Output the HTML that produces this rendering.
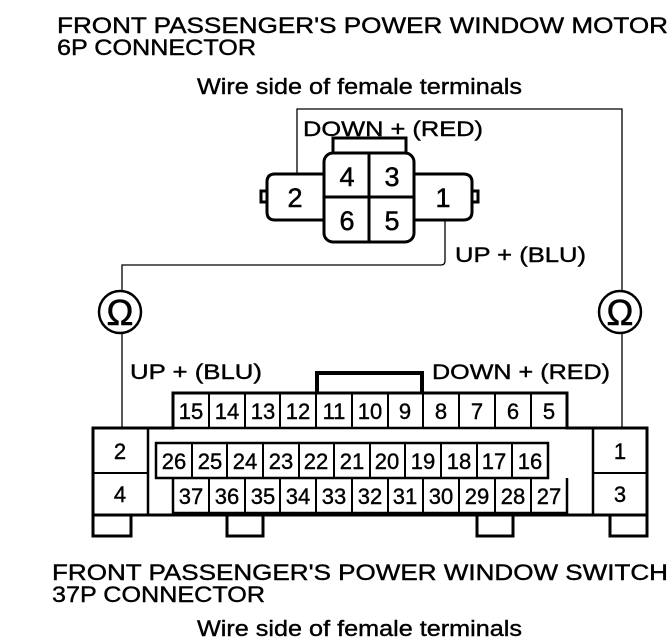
<!DOCTYPE html>
<html><head><meta charset="utf-8"><style>html,body{margin:0;padding:0;background:#fff}svg{display:block}</style></head>
<body>
<svg width="672" height="644" viewBox="0 0 672 644" xmlns="http://www.w3.org/2000/svg" font-family="Liberation Sans, Arial, sans-serif" fill="none" stroke="#000">
<g fill="#000" stroke="#000" stroke-width="0.4" font-size="22">
<text x="57" y="33" textLength="611" lengthAdjust="spacingAndGlyphs">FRONT PASSENGER'S POWER WINDOW MOTOR</text>
<text x="57" y="55" textLength="199" lengthAdjust="spacingAndGlyphs">6P CONNECTOR</text>
<text x="197" y="94" textLength="325" lengthAdjust="spacingAndGlyphs">Wire side of female terminals</text>
<text x="52" y="580" textLength="616" lengthAdjust="spacingAndGlyphs">FRONT PASSENGER'S POWER WINDOW SWITCH</text>
<text x="52" y="602" textLength="213" lengthAdjust="spacingAndGlyphs">37P CONNECTOR</text>
<text x="197" y="636" textLength="325" lengthAdjust="spacingAndGlyphs">Wire side of female terminals</text>
<text x="303" y="136" font-size="21" textLength="180" lengthAdjust="spacingAndGlyphs">DOWN +  (RED)</text>
<text x="455" y="262" font-size="21" textLength="131" lengthAdjust="spacingAndGlyphs">UP +  (BLU)</text>
<text x="130" y="379" font-size="21" textLength="132" lengthAdjust="spacingAndGlyphs">UP +  (BLU)</text>
<text x="432" y="379" font-size="21" textLength="178" lengthAdjust="spacingAndGlyphs">DOWN +  (RED)</text>
</g>
<!-- wires -->
<g stroke-width="1.3">
<path d="M297 175 V109 H622 V290 M622 334 V428"/>
<path d="M445 220 V261 Q445 265 441 265 H122 V290 M122 334 V428"/>
</g>
<g stroke-width="2.5"><circle cx="120" cy="312" r="21"/><circle cx="620" cy="312" r="21"/></g>
<g fill="#000" stroke="#000" stroke-width="0.6" font-size="36"><text x="120" y="325" text-anchor="middle">Ω</text><text x="620" y="325" text-anchor="middle">Ω</text></g>
<!-- 6P connector -->
<g stroke-width="3">
<path d="M333 153 V138 H406 V153"/>
<rect x="324" y="153" width="90" height="89" rx="9"/>
<path d="M369 153 V242 M324 197 H414"/>
<path d="M324 174 H275 Q267 174 267 182 V212 Q267 220 275 220 H324"/>
<path d="M414 174 H463 Q472 174 472 182 V212 Q472 220 463 220 H414"/>
<rect x="261" y="191" width="6" height="11"/>
<rect x="472" y="191" width="6" height="11"/>
</g>
<g fill="#000" stroke="#000" stroke-width="0.5" font-size="27" text-anchor="middle">
<text x="295" y="207">2</text><text x="347" y="186">4</text><text x="392" y="186">3</text>
<text x="347" y="230">6</text><text x="392" y="230">5</text><text x="443" y="207">1</text>
</g>
<!-- 37P connector -->
<g stroke-width="3">
<path d="M317 393 V373 H422 V393" stroke-width="4"/>
<path d="M93 428 H173 V393 H567 V428 H647 V515 H93 Z"/>
<path d="M93 515 V536 H131 V515 M227 515 V536 H263 V515 M477 515 V536 H513 V515 M610 515 V536 H647 V515"/>
<path d="M148 428 V515 M593 428 V515" stroke-width="2.5"/>
<path d="M93 473 H148 M593 473 H647" stroke-width="2"/>
<rect x="156" y="443" width="392" height="35" stroke-width="2.5"/>
<path d="M173 428 H567 M173 478 V513 H567 V478" stroke-width="2.5"/>
</g>
<g stroke-width="2">
<path d="M209 393V428M245 393V428M280 393V428M316 393V428M352 393V428M388 393V428M423 393V428M459 393V428M495 393V428M531 393V428"/>
<path d="M192 443V478M227 443V478M263 443V478M299 443V478M334 443V478M370 443V478M405 443V478M441 443V478M477 443V478M512 443V478"/>
<path d="M209 478V513M245 478V513M280 478V513M316 478V513M352 478V513M388 478V513M423 478V513M459 478V513M495 478V513M531 478V513"/>
</g>
<g fill="#000" stroke="#000" stroke-width="0.4" font-size="22" text-anchor="middle">
<text x="191" y="419">15</text><text x="227" y="419">14</text><text x="263" y="419">13</text><text x="298" y="419">12</text><text x="334" y="419">11</text><text x="370" y="419">10</text><text x="405" y="419">9</text><text x="441" y="419">8</text><text x="477" y="419">7</text><text x="513" y="419">6</text><text x="549" y="419">5</text>
<text x="174" y="469">26</text><text x="210" y="469">25</text><text x="245" y="469">24</text><text x="281" y="469">23</text><text x="316" y="469">22</text><text x="352" y="469">21</text><text x="387" y="469">20</text><text x="423" y="469">19</text><text x="459" y="469">18</text><text x="494" y="469">17</text><text x="530" y="469">16</text>
<text x="191" y="504">37</text><text x="227" y="504">36</text><text x="263" y="504">35</text><text x="298" y="504">34</text><text x="334" y="504">33</text><text x="370" y="504">32</text><text x="405" y="504">31</text><text x="441" y="504">30</text><text x="477" y="504">29</text><text x="513" y="504">28</text><text x="549" y="504">27</text>
<text x="120" y="459">2</text><text x="120" y="502">4</text><text x="620" y="459">1</text><text x="620" y="502">3</text>
</g>
</svg>
</body></html>
